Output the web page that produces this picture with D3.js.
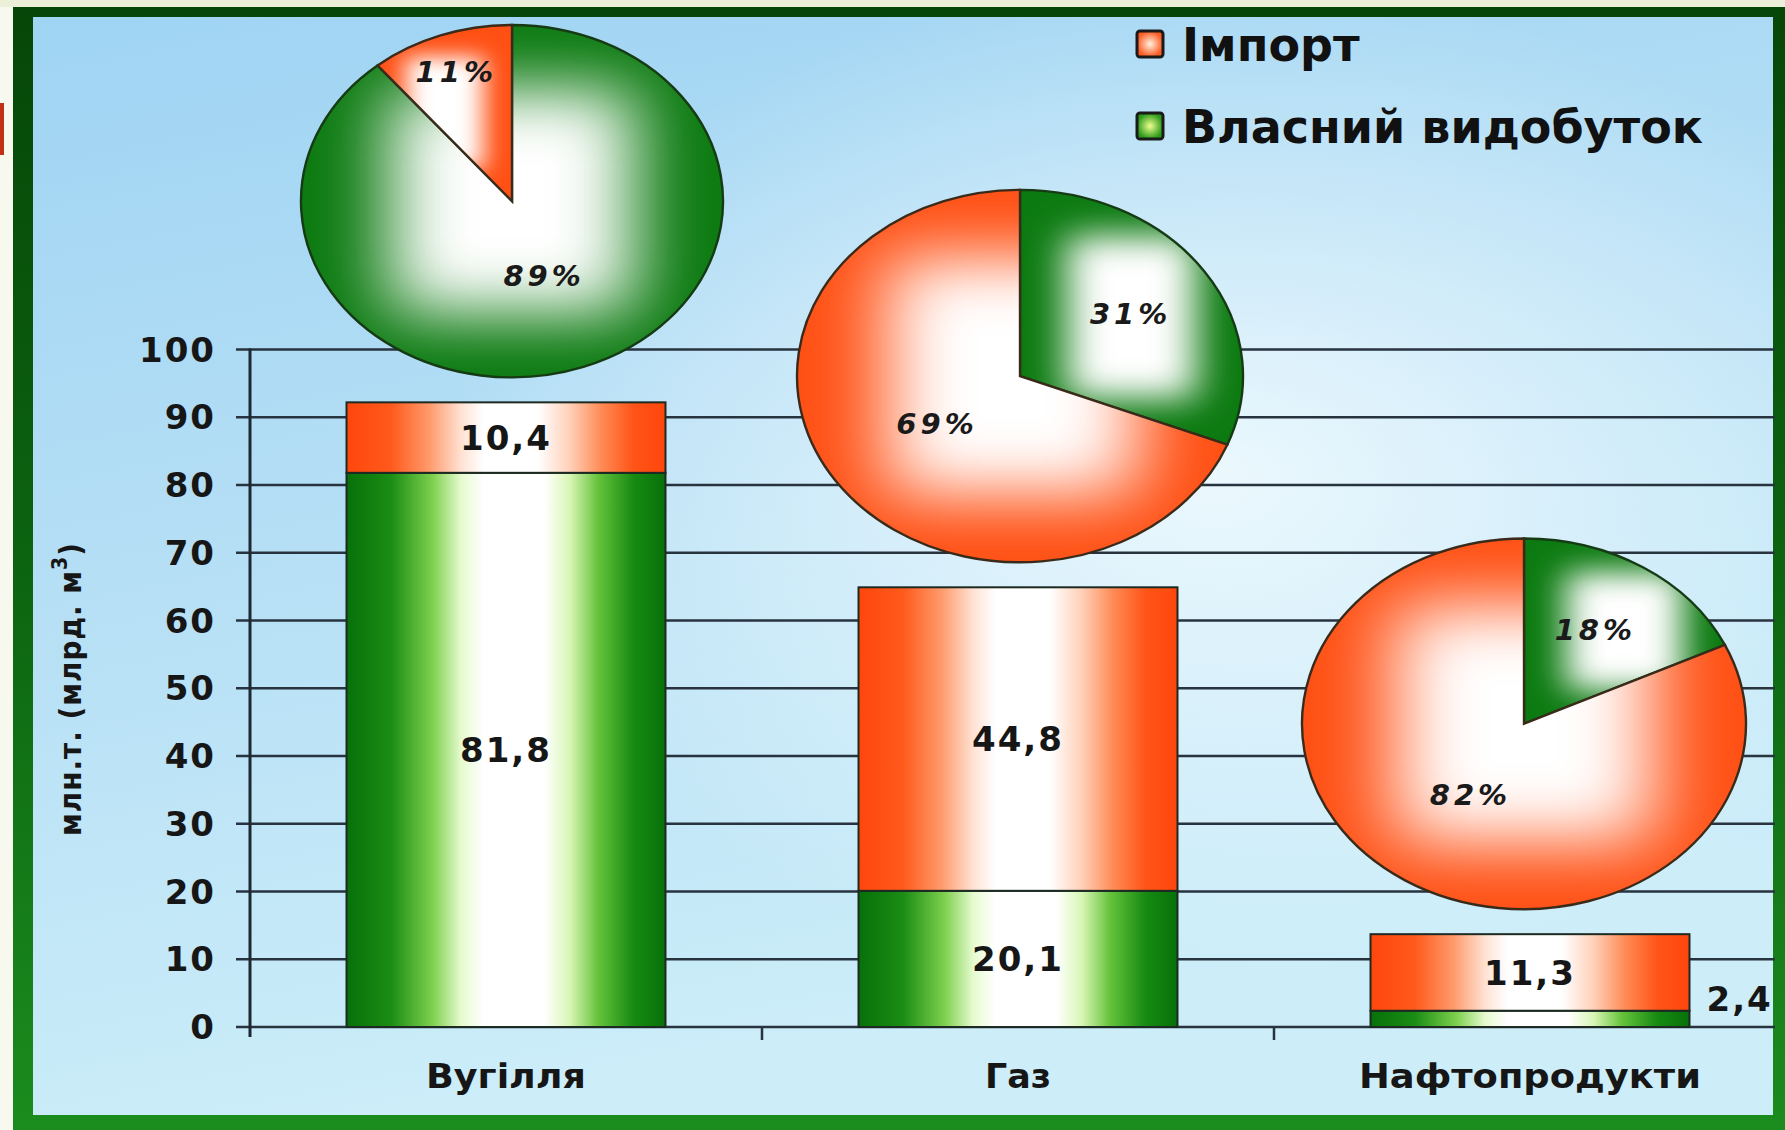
<!DOCTYPE html>
<html><head><meta charset="utf-8">
<script src="https://cdn.jsdelivr.net/npm/d3@7"></script>
<style>body{margin:0;background:#edf0d9;overflow:hidden} svg{display:block}</style>
</head><body>
<svg id="chart" width="1785" height="1130"></svg>
<script>
// ---------- data ----------
const categories = ["Вугілля", "Газ", "Нафтопродукти"];
const seriesNames = ["Імпорт", "Власний видобуток"];
const ownValues = [81.8, 20.1, 2.4];
const importValues = [10.4, 44.8, 11.3];
const ownShares = [89, 31, 18];
const importShares = [11, 69, 82];
const yTicks = [0, 10, 20, 30, 40, 50, 60, 70, 80, 90, 100];
const yTitleMain = "млн.т. (млрд. м";
const yTitleSup = "3";
const yTitleEnd = ")";

// ---------- layout ----------
const W = 1785, H = 1130;
const plotLeft = 250, plotRight = 1786, gridRight = 1775;
const yBottom = 1027, yTop = 349.5;
const pieRadii = [211, 223, 222];
const pieShift = [6, 2, -6];
const pieRatio = 0.835;
const pieGap = 25;
const catLabelWidths = [160, 66, 342];
const GREEN = "#0b7a10", ORANGE = "#ff5014";

const svg = d3.select("#chart");
const defs = svg.append("defs");

function linGrad(id, stops, x2 = "100%", y2 = "0%") {
  const g = defs.append("linearGradient").attr("id", id)
    .attr("x1", "0%").attr("y1", "0%").attr("x2", x2).attr("y2", y2);
  stops.forEach(([o, c]) => g.append("stop").attr("offset", o).attr("stop-color", c));
}
linGrad("gGreenBar", [[0, "#077109"], [0.14, "#1a8d14"], [0.27, "#7fd04e"], [0.36, "#e6fbcf"], [0.43, "#ffffff"], [0.62, "#ffffff"], [0.70, "#d8f6b4"], [0.79, "#64c23a"], [0.9, "#168a12"], [1, "#077109"]]);
linGrad("gOrangeBar", [[0, "#ff460c"], [0.14, "#ff5a1c"], [0.26, "#ff9a6c"], [0.36, "#ffe2d4"], [0.43, "#ffffff"], [0.60, "#ffffff"], [0.70, "#ffd0b8"], [0.80, "#ff8a54"], [0.9, "#ff5418"], [1, "#ff460c"]]);
linGrad("gFrame", [[0, "#064608"], [0.5, "#0c6410"], [1, "#1b8c1e"]], "0%", "100%");
linGrad("gBg", [[0, "#9fd4f3"], [0.45, "#b4def5"], [1, "#cdeef9"]], "30%", "100%");
const rg = defs.append("radialGradient").attr("id", "gGlow").attr("cx", "68%").attr("cy", "42%").attr("r", "45%");
rg.append("stop").attr("offset", 0).attr("stop-color", "#f4fcff").attr("stop-opacity", 0.85);
rg.append("stop").attr("offset", 1).attr("stop-color", "#f4fcff").attr("stop-opacity", 0);
const rgO = defs.append("radialGradient").attr("id", "gLegO");
rgO.append("stop").attr("offset", 0).attr("stop-color", "#fff2e0");
rgO.append("stop").attr("offset", 1).attr("stop-color", "#ff5a20");
const rgG = defs.append("radialGradient").attr("id", "gLegG");
rgG.append("stop").attr("offset", 0).attr("stop-color", "#f0ff90");
rgG.append("stop").attr("offset", 1).attr("stop-color", "#2a9a18");

// ---------- frame & background ----------
svg.append("rect").attr("x", 0).attr("y", 0).attr("width", W).attr("height", H).attr("fill", "#edf0d9");
svg.append("rect").attr("x", 0).attr("y", 7).attr("width", 13).attr("height", H).attr("fill", "#f7f8ee");
svg.append("rect").attr("x", 0).attr("y", 103).attr("width", 4).attr("height", 52).attr("fill", "#c23018");
svg.append("rect").attr("x", 13).attr("y", 7).attr("width", W - 13).attr("height", H - 7).attr("fill", "url(#gFrame)");
svg.append("rect").attr("x", 33).attr("y", 17).attr("width", 1773 - 33).attr("height", 1115 - 17).attr("fill", "url(#gBg)");
svg.append("rect").attr("x", 33).attr("y", 17).attr("width", 1773 - 33).attr("height", 1115 - 17).attr("fill", "url(#gGlow)");

// ---------- scales ----------
const x = d3.scaleBand().domain(categories).range([plotLeft, plotRight]).padding(0);
const y = d3.scaleLinear().domain([0, 100]).range([yBottom, yTop]);
const barW = x.bandwidth() * 0.623;

// gridlines
const grid = svg.append("g");
grid.selectAll("line").data(yTicks).join("line")
  .attr("x1", plotLeft - 14).attr("x2", gridRight)
  .attr("y1", d => y(d)).attr("y2", d => y(d))
  .attr("stroke", "#27333f").attr("stroke-width", 2.6);
svg.append("line").attr("x1", plotLeft).attr("x2", plotLeft).attr("y1", y(100) - 1).attr("y2", yBottom + 10)
  .attr("stroke", "#1e2833").attr("stroke-width", 3);
svg.append("g").selectAll("line").data(categories.slice(1)).join("line")
  .attr("x1", d => x(d)).attr("x2", d => x(d)).attr("y1", yBottom).attr("y2", yBottom + 13)
  .attr("stroke", "#27333f").attr("stroke-width", 2.5);

// y tick labels
svg.append("g").selectAll("text").data(yTicks).join("text")
  .attr("x", 216).attr("y", d => y(d)).attr("dy", "0.36em")
  .attr("text-anchor", "end")
  .attr("font-family", "DejaVu Sans, Verdana, sans-serif").attr("font-weight", "bold")
  .attr("font-size", 34).attr("letter-spacing", 2).attr("fill", "#161616")
  .text(d => d);

// y title
const yt = svg.append("text")
  .attr("transform", "translate(81,689) rotate(-90)")
  .attr("text-anchor", "middle")
  .attr("font-family", "DejaVu Sans Condensed, DejaVu Sans, sans-serif")
  .attr("font-stretch", "condensed")
  .attr("font-weight", "bold").attr("font-size", 31).attr("letter-spacing", 1).attr("fill", "#161616");
yt.append("tspan").text(yTitleMain);
yt.append("tspan").attr("dy", -14).attr("font-size", 21).text(yTitleSup);
yt.append("tspan").attr("dy", 14).text(yTitleEnd);

// ---------- bars ----------
const fmt = v => v.toFixed(1).replace(".", ",");
const bars = svg.append("g");
categories.forEach((c, i) => {
  const cx = x(c) + x.bandwidth() / 2;
  const own = ownValues[i], imp = importValues[i];
  bars.append("rect").attr("x", cx - barW / 2).attr("width", barW)
    .attr("y", y(own)).attr("height", y(0) - y(own))
    .attr("fill", "url(#gGreenBar)").attr("stroke", "#1c2a22").attr("stroke-width", 2);
  bars.append("rect").attr("x", cx - barW / 2).attr("width", barW)
    .attr("y", y(own + imp)).attr("height", y(own) - y(own + imp))
    .attr("fill", "url(#gOrangeBar)").attr("stroke", "#1c2a22").attr("stroke-width", 2);
});

const barLabel = (sel) => sel.attr("font-family", "DejaVu Sans, Verdana, sans-serif")
  .attr("font-weight", "bold").attr("font-size", 34).attr("fill", "#161616")
  .attr("letter-spacing", 2).attr("dy", "0.36em");
categories.forEach((c, i) => {
  const cx = x(c) + x.bandwidth() / 2;
  const own = ownValues[i], imp = importValues[i];
  const big = (y(0) - y(own)) > 40;
  barLabel(svg.append("text")).attr("text-anchor", big ? "middle" : "start")
    .attr("x", big ? cx : cx + barW / 2 + 17)
    .attr("y", big ? y(own / 2) : y(own / 2) - 20)
    .text(fmt(own));
  barLabel(svg.append("text")).attr("text-anchor", "middle")
    .attr("x", cx).attr("y", y(own + imp / 2)).text(fmt(imp));
});

// category labels
svg.append("g").selectAll("text").data(categories).join("text")
  .attr("x", d => x(d) + x.bandwidth() / 2).attr("y", 1088)
  .attr("text-anchor", "middle")
  .attr("font-family", "DejaVu Sans Condensed, DejaVu Sans, sans-serif")
  .attr("font-stretch", "condensed")
  .attr("font-weight", "bold").attr("font-size", 34).attr("fill", "#161616")
  .attr("textLength", (d, i) => catLabelWidths[i]).attr("lengthAdjust", "spacingAndGlyphs")
  .text(d => d);

// ---------- pies ----------
const pie = d3.pie().sort(null).value(d => d.v);
categories.forEach((c, i) => {
  const r = pieRadii[i];
  const ry = r * pieRatio;
  const cx = x(c) + x.bandwidth() / 2 + pieShift[i];
  const top = y(ownValues[i] + importValues[i]);
  const cy = top - pieGap - ry;
  const data = [{ k: "own", v: ownShares[i] }, { k: "imp", v: importShares[i] }];
  const arcs = pie(data);
  const arc = d3.arc().innerRadius(0).outerRadius(r);
  const g = svg.append("g").attr("transform", `translate(${cx},${cy}) scale(1,${pieRatio})`);
  arcs.forEach((a, j) => {
    const d = arc(a);
    const color = a.data.k === "own" ? GREEN : ORANGE;
    const clipId = `clip${i}_${j}`;
    defs.append("clipPath").attr("id", clipId).append("path").attr("d", d);
    const sg = g.append("g").attr("clip-path", `url(#${clipId})`);
    const p = sg.append("path").attr("d", d).attr("fill", color);
    const bb = p.node().getBBox();
    const s = Math.min(bb.width, bb.height);
    const fid = `blur${i}_${j}`;
    defs.append("filter").attr("id", fid).attr("x", "-60%").attr("y", "-60%").attr("width", "220%").attr("height", "220%")
      .append("feGaussianBlur").attr("stdDeviation", s * 0.09);
    sg.append("rect")
      .attr("x", bb.x + bb.width * 0.21).attr("y", bb.y + bb.height * 0.18)
      .attr("width", bb.width * 0.58).attr("height", bb.height * 0.64)
      .attr("fill", "#ffffff").attr("filter", `url(#${fid})`);
    g.append("path").attr("d", d).attr("fill", "none")
      .attr("stroke", a.data.k === "own" ? "#163a14" : "#3a2a1a").attr("stroke-width", 2.4)
      .attr("vector-effect", "non-scaling-stroke");
  });
  arcs.forEach(a => {
    const frac = (a.endAngle - a.startAngle) / (2 * Math.PI);
    const lr = r * (frac > 0.5 ? 0.45 : frac < 0.15 ? 0.78 : 0.6);
    const la = d3.arc().innerRadius(lr).outerRadius(lr);
    const [lx, ly] = la.centroid(a);
    svg.append("text").attr("x", cx + lx).attr("y", cy + ly * pieRatio).attr("dy", "0.36em")
      .attr("text-anchor", "middle")
      .attr("font-family", "DejaVu Sans, Verdana, sans-serif").attr("font-weight", "bold")
      .attr("font-style", "italic").attr("font-size", 29).attr("letter-spacing", 4)
      .attr("fill", "#1a1a1a")
      .text(a.data.v + "%");
  });
});

// ---------- legend ----------
const legend = svg.append("g");
const legY = [44, 126];
seriesNames.forEach((n, i) => {
  legend.append("rect").attr("x", 1137).attr("y", legY[i] - 13).attr("width", 26).attr("height", 26)
    .attr("fill", i === 0 ? "url(#gLegO)" : "url(#gLegG)").attr("stroke", "#1a1a1a").attr("stroke-width", 3).attr("rx", 3);
  legend.append("text").attr("x", 1182).attr("y", legY[i]).attr("dy", "0.36em")
    .attr("font-family", "DejaVu Sans, Verdana, sans-serif").attr("font-weight", "bold")
    .attr("font-size", 46).attr("fill", "#111").text(n);
});
</script>
</body></html>
